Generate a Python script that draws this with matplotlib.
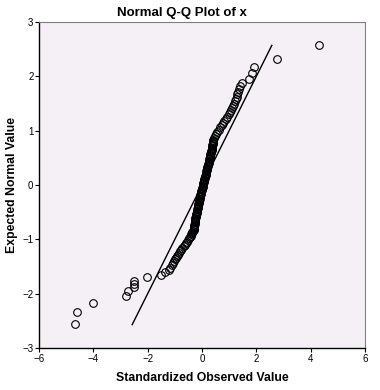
import numpy as np
import matplotlib
matplotlib.use('Agg')
import matplotlib.pyplot as plt

plt.rcParams['font.family'] = ['Liberation Sans', 'DejaVu Sans']

# observed (standardized) values and expected normal values
obs_tail_lo = [-4.68, -4.59, -4.02, -2.80, -2.72, -2.50, -2.50, -2.50, -2.01, -1.51,
               -1.36, -1.20, -1.16, -1.12, -1.08]
exp_tail_lo = [-2.56, -2.33, -2.17, -2.05, -1.96, -1.88, -1.82, -1.77, -1.70, -1.65,
               -1.60, -1.56, -1.52, -1.48, -1.44]

obs_band_lo = [-1.04, -1.00, -0.96, -0.92, -0.88, -0.84, -0.80, -0.76, -0.72, -0.67,
               -0.63, -0.59, -0.55, -0.51, -0.47, -0.44,
               -0.42, -0.39, -0.37, -0.35, -0.33]
exp_band_lo = [-1.40, -1.37, -1.34, -1.31, -1.28, -1.25, -1.22, -1.19, -1.16, -1.13,
               -1.10, -1.07, -1.04, -1.01, -0.98, -0.95,
               -0.93, -0.91, -0.89, -0.87, -0.85]

obs_core = [-0.31, -0.30, -0.30, -0.29, -0.28, -0.28, -0.27, -0.26, -0.26, -0.25,
            -0.24, -0.24, -0.23, -0.22, -0.21, -0.21, -0.20, -0.19, -0.18, -0.17,
            -0.16, -0.16, -0.15, -0.14, -0.13, -0.12, -0.11, -0.11, -0.10, -0.09,
            -0.08, -0.07, -0.06, -0.05, -0.04, -0.03, -0.02, -0.01, 0.00, 0.01,
            0.02, 0.03, 0.04, 0.05, 0.06, 0.07, 0.08, 0.09, 0.10, 0.11,
            0.12, 0.13, 0.14, 0.15, 0.16, 0.17, 0.18, 0.19, 0.20, 0.21,
            0.22, 0.23, 0.24, 0.25, 0.26, 0.27, 0.28, 0.29, 0.30, 0.31,
            0.31, 0.32, 0.33, 0.34, 0.35, 0.36, 0.36, 0.37, 0.38, 0.39,
            0.40, 0.40, 0.41, 0.42]
exp_core = [-0.83, -0.81, -0.79, -0.77, -0.75, -0.73, -0.71, -0.69, -0.67, -0.65,
            -0.63, -0.61, -0.59, -0.57, -0.55, -0.53, -0.51, -0.49, -0.47, -0.45,
            -0.43, -0.41, -0.39, -0.37, -0.35, -0.33, -0.31, -0.29, -0.27, -0.25,
            -0.23, -0.21, -0.19, -0.17, -0.15, -0.13, -0.11, -0.09, -0.07, -0.05,
            -0.03, -0.01, 0.01, 0.03, 0.05, 0.07, 0.09, 0.11, 0.13, 0.15,
            0.17, 0.19, 0.21, 0.23, 0.25, 0.27, 0.29, 0.31, 0.33, 0.35,
            0.37, 0.39, 0.41, 0.43, 0.45, 0.47, 0.49, 0.51, 0.53, 0.55,
            0.57, 0.59, 0.61, 0.63, 0.65, 0.67, 0.69, 0.71, 0.73, 0.75,
            0.77, 0.79, 0.81, 0.83]

obs_hi = [0.45, 0.48, 0.52, 0.57, 0.62, 0.67, 0.72, 0.77, 0.82, 0.88,
          0.93, 0.98, 1.03, 1.08, 1.12, 1.15, 1.18, 1.21, 1.24, 1.27,
          1.30, 1.33, 1.37, 1.41, 1.47, 1.74, 1.85, 1.91, 2.75, 4.31]
exp_hi = [0.86, 0.90, 0.94, 0.98, 1.02, 1.06, 1.10, 1.14, 1.18, 1.22,
          1.26, 1.30, 1.34, 1.38, 1.42, 1.46, 1.50, 1.54, 1.58, 1.62,
          1.67, 1.72, 1.77, 1.82, 1.88, 1.96, 2.07, 2.17, 2.32, 2.58]

# reference line (expected = observed)
line_x = [-2.57, 2.57]

obs = np.array(obs_tail_lo + obs_band_lo + obs_core + obs_hi)
exp = np.array(exp_tail_lo + exp_band_lo + exp_core + exp_hi)

fig = plt.figure(figsize=(3.8, 3.9), dpi=100)
ax = fig.add_axes([39/380, 1-348/390, 326/380, 326/390])
ax.set_facecolor('#f5f0f5')

ax.plot(line_x, line_x, color='black', lw=1.0, zorder=2)
ax.plot(obs, exp, linestyle='none', marker='o', ms=5.5, mfc='none',
        mec='black', mew=0.8, zorder=3)

ax.set_xlim(-6, 6)
ax.set_ylim(-3, 3)
ax.set_xticks([-6, -4, -2, 0, 2, 4, 6])
ax.set_yticks([-3, -2, -1, 0, 1, 2, 3])
ax.tick_params(labelsize=7, length=3, width=0.8, pad=1)

for s in ['left', 'bottom']:
    ax.spines[s].set_color('black')
    ax.spines[s].set_linewidth(1.0)
for s in ['top', 'right']:
    ax.spines[s].set_color('#808080')
    ax.spines[s].set_linewidth(0.8)

fig.text(182/380, 1-13/390, 'Normal Q-Q Plot of x', ha='center', va='center',
         fontsize=9.5, fontweight='bold')
fig.text(202/380, 1-378/390, 'Standardized Observed Value', ha='center', va='center',
         fontsize=8.8, fontweight='bold')
fig.text(12/380, 1-185/390, 'Expected Normal Value', ha='center', va='center',
         rotation=90, fontsize=8.8, fontweight='bold')

fig.savefig('out.png', dpi=100)
